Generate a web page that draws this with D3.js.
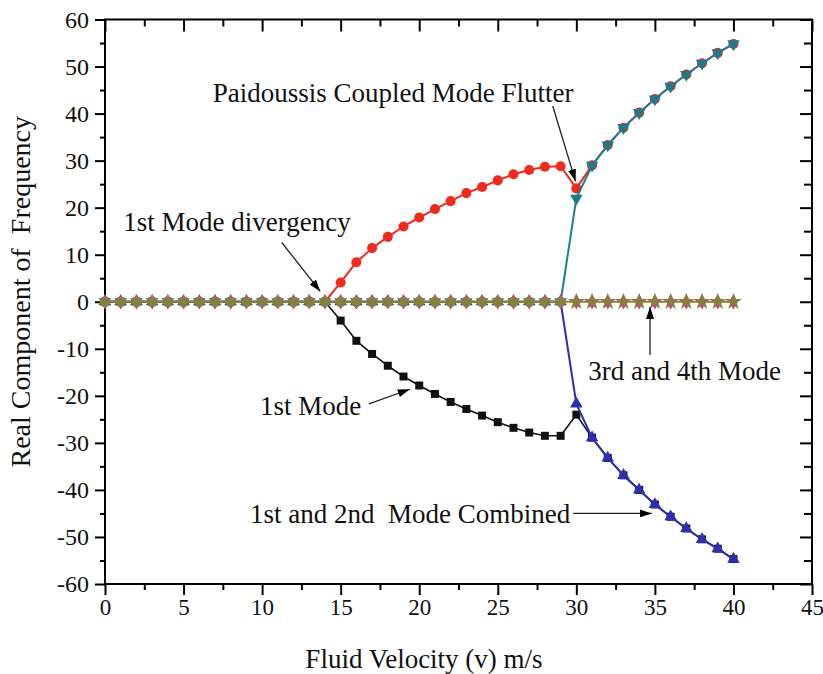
<!DOCTYPE html>
<html>
<head>
<meta charset="utf-8">
<script src="https://cdn.jsdelivr.net/npm/d3@7"></script>
<style>
  html, body { margin: 0; padding: 0; background: #fff; }
  svg { display: block; }
  text { font-family: "Liberation Serif", "Times New Roman", serif; fill: #111; }
</style>
</head>
<body>
<svg id="chart" width="823" height="674"></svg>
<script>
// Fluid velocity (m/s) at which each eigenvalue was computed
const velocity = [0,1,2,3,4,5,6,7,8,9,10,11,12,13,14,15,16,17,18,19,20,
                  21,22,23,24,25,26,27,28,29,30,31,32,33,34,35,36,37,38,39,40];

// Real part of the eigen-frequency for each mode
const mode1 = [0,0,0,0,0,0,0,0,0,0,0,0,0,0,0,-4.0,-8.3,-11.1,-13.6,-15.9,-17.8,
               -19.6,-21.3,-22.8,-24.2,-25.6,-26.8,-27.8,-28.5,-28.5,-24.0,
               -28.9,-33.2,-36.9,-40.0,-43.1,-45.7,-48.2,-50.5,-52.5,-54.7];
const mode2 = [0,0,0,0,0,0,0,0,0,0,0,0,0,0,0,4.1,8.4,11.4,13.8,16.0,17.9,
               19.7,21.4,23.1,24.4,25.8,27.1,28.0,28.7,28.8,24.1,
               29.0,33.3,37.0,40.2,43.1,45.8,48.3,50.7,52.9,54.8];
const combinedLower = [0,0,0,0,0,0,0,0,0,0,0,0,0,0,0,0,0,0,0,0,0,
                       0,0,0,0,0,0,0,0,0,-21.7,
                       -28.9,-33.2,-36.9,-40.0,-43.1,-45.7,-48.2,-50.5,-52.5,-54.7];
const combinedUpper = [0,0,0,0,0,0,0,0,0,0,0,0,0,0,0,0,0,0,0,0,0,
                       0,0,0,0,0,0,0,0,0,22.0,
                       29.0,33.3,37.0,40.2,43.1,45.8,48.3,50.7,52.9,54.8];
const mode3 = [0,0,0,0,0,0,0,0,0,0,0,0,0,0,0,0,0,0,0,0,0,
               0,0,0,0,0,0,0,0,0,0,0,0,0,0,0,0,0,0,0,0];
const mode4 = [0,0,0,0,0,0,0,0,0,0,0,0,0,0,0,0,0,0,0,0,0,
               0,0,0,0,0,0,0,0,0,0,0,0,0,0,0,0,0,0,0,0];

// Axis ticks
const xMajorTicks = [0,5,10,15,20,25,30,35,40,45];
const xMinorTicks = [2.5,7.5,12.5,17.5,22.5,27.5,32.5,37.5,42.5];
const yMajorTicks = [-60,-50,-40,-30,-20,-10,0,10,20,30,40,50,60];
const yMinorTicks = [-55,-45,-35,-25,-15,-5,5,15,25,35,45,55];

// Callouts: text anchor and arrow from/to, in data units
const callouts = [
  { text: "Paidoussis Coupled Mode Flutter", tx: 6.86, ty: 42.5,
    from: [28.5, 41.6], to: [29.95, 25.6] },
  { text: "1st Mode divergency", tx: 1.16, ty: 15.1,
    from: [11.25, 12.6], to: [13.7, 2.2] },
  { text: "1st Mode", tx: 9.87, ty: -24.1,
    from: [16.8, -21.7], to: [19.4, -18.6] },
  { text: "3rd and 4th Mode", tx: 30.76, ty: -16.6,
    from: [34.69, -11.3], to: [34.69, -1.1] },
  { text: "1st and 2nd\u00a0\u00a0Mode Combined", tx: 9.23, ty: -47.0,
    from: [29.8, -45.0], to: [34.8, -45.0] }
];

const svg = d3.select("#chart");
const plotLeft = 105, plotRight = 812, plotTop = 19.5, plotBottom = 584;

const x = d3.scaleLinear().domain([0, 45]).range([plotLeft, plotRight]);
const y = d3.scaleLinear().domain([-60, 60]).range([plotBottom, plotTop]);

// Arrowhead definition
svg.append("defs").append("marker")
  .attr("id", "arrowhead")
  .attr("viewBox", "0 0 12 8")
  .attr("refX", 12).attr("refY", 4)
  .attr("markerWidth", 12).attr("markerHeight", 8)
  .attr("markerUnits", "userSpaceOnUse")
  .attr("orient", "auto")
  .append("path").attr("d", "M0,0 L12,4 L0,8 Z").attr("fill", "#000");

// ---- axes ----
function styleAxis(g) {
  g.select(".domain").remove();
  g.selectAll(".tick line").attr("stroke", "#000").attr("stroke-width", 2);
}
const plainNumber = d => String(d);

svg.append("g").attr("transform", `translate(0,${plotBottom})`)
  .call(d3.axisBottom(x).tickValues(xMajorTicks).tickSize(11).tickPadding(4)
        .tickFormat(plainNumber))
  .call(styleAxis)
  .call(g => g.selectAll("text").attr("font-size", 23)
        .attr("font-family", "Liberation Serif").attr("fill", "#111"));
svg.append("g").attr("transform", `translate(0,${plotBottom})`)
  .call(d3.axisBottom(x).tickValues(xMinorTicks).tickSize(6).tickFormat(""))
  .call(styleAxis);

svg.append("g").attr("transform", `translate(${plotLeft},0)`)
  .call(d3.axisLeft(y).tickValues(yMajorTicks).tickSize(10).tickPadding(6)
        .tickFormat(plainNumber))
  .call(styleAxis)
  .call(g => g.selectAll("text").attr("font-size", 24)
        .attr("font-family", "Liberation Serif").attr("fill", "#111"));
svg.append("g").attr("transform", `translate(${plotLeft},0)`)
  .call(d3.axisLeft(y).tickValues(yMinorTicks).tickSize(5).tickFormat(""))
  .call(styleAxis);

// mirrored ticks on top and right, pointing inward
svg.append("g").attr("transform", `translate(0,${plotTop})`)
  .call(d3.axisTop(x).tickValues(xMajorTicks).tickSize(-12).tickFormat(""))
  .call(styleAxis);
svg.append("g").attr("transform", `translate(0,${plotTop})`)
  .call(d3.axisTop(x).tickValues(xMinorTicks).tickSize(-7).tickFormat(""))
  .call(styleAxis);
svg.append("g").attr("transform", `translate(${plotRight},0)`)
  .call(d3.axisRight(y).tickValues(yMajorTicks).tickSize(-12).tickFormat(""))
  .call(styleAxis);
svg.append("g").attr("transform", `translate(${plotRight},0)`)
  .call(d3.axisRight(y).tickValues(yMinorTicks).tickSize(-8).tickFormat(""))
  .call(styleAxis);

// frame
svg.append("rect")
  .attr("x", plotLeft).attr("y", plotTop)
  .attr("width", plotRight - plotLeft).attr("height", plotBottom - plotTop)
  .attr("fill", "none").attr("stroke", "#000").attr("stroke-width", 2);

// axis titles
svg.append("text")
  .attr("x", 424).attr("y", 668)
  .attr("text-anchor", "middle").attr("font-size", 27)
  .text("Fluid Velocity (v) m/s");
svg.append("text")
  .attr("transform", `translate(30,${(plotTop + plotBottom) / 2 - 10}) rotate(-90)`)
  .attr("text-anchor", "middle").attr("font-size", 28)
  .text("Real Component of\u00a0\u00a0Frequency");

// ---- series ----
const plot = svg.append("g");

function toPoints(values) {
  return velocity.map((v, i) => [v, values[i]]);
}
const line = d3.line().x(d => x(d[0])).y(d => y(d[1]));

function drawLine(values, color, width) {
  plot.append("path").datum(toPoints(values))
    .attr("d", line).attr("fill", "none")
    .attr("stroke", color).attr("stroke-width", width)
    .attr("stroke-linejoin", "round");
}
function drawMarkers(values, symbolFor, color, rotation) {
  plot.append("g").selectAll("path")
    .data(toPoints(values))
    .join("path")
    .attr("transform", d => `translate(${x(d[0])},${y(d[1])}) rotate(${rotation || 0})`)
    .attr("d", d => symbolFor(d))
    .attr("fill", color);
}

const square = d3.symbol(d3.symbolSquare, 64);
const circle = d3.symbol(d3.symbolCircle, 80);
const triangle = d3.symbol(d3.symbolTriangle, 68);
const diamond = d3.symbol(d3.symbolDiamond, 70);
const olivePre = d3.symbol(d3.symbolCircle, 88);
const olivePost = d3.symbol(d3.symbolStar, 90);

// 1st mode (black squares) and 2nd mode (red circles)
drawLine(mode1, "#111", 1.6);
drawMarkers(mode1, () => square(), "#111");
drawLine(mode2, "#f02a1e", 2);
drawMarkers(mode2, () => circle(), "#f02a1e");

// combined 1st and 2nd mode branches after coupling
drawLine(combinedLower, "#2b2fb0", 2);
drawMarkers(combinedLower, () => triangle(), "#2b2fb0");
drawLine(combinedUpper, "#1c8090", 2);
drawMarkers(combinedUpper, () => triangle(), "#1c7a8c", 180);

// 3rd and 4th modes staying on the zero axis
drawLine(mode3, "#a2743e", 2.2);
drawMarkers(mode3, () => diamond(), "#ee2aa8");
drawMarkers(mode4, d => d[0] < 30 ? olivePre() : olivePost(), "#84813c");

// ---- callouts ----
const notes = svg.append("g");
callouts.forEach(c => {
  notes.append("line")
    .attr("x1", x(c.from[0])).attr("y1", y(c.from[1]))
    .attr("x2", x(c.to[0])).attr("y2", y(c.to[1]))
    .attr("stroke", "#222").attr("stroke-width", 1.3)
    .attr("marker-end", "url(#arrowhead)");
  notes.append("text")
    .attr("x", x(c.tx)).attr("y", y(c.ty))
    .attr("font-size", 27)
    .text(c.text);
});
</script>
</body>
</html>
